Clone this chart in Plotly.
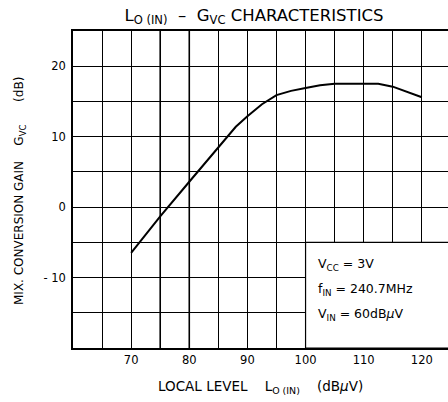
import plotly.graph_objects as go

# Data
lo_level = [70, 75, 80, 85, 88, 90, 92.5, 95, 97.5, 100, 102.5, 105, 110, 112.5, 115, 117.5, 120]
gain_db = [-6.5, -1.3, 3.6, 8.5, 11.4, 12.9, 14.6, 15.9, 16.5, 16.9, 17.3, 17.5, 17.5, 17.5, 17.1, 16.4, 15.6]

x_ticks = [70, 80, 90, 100, 110, 120]
x_ticktext = ["70", "80", "90", "100", "110", "120"]
y_ticks = [-10, 0, 10, 20]
y_ticktext = ["- 10", "0", "10", "20"]

cond_lines = ["V<sub>CC</sub> = 3V", "f<sub>IN</sub> = 240.7MHz", "V<sub>IN</sub> = 60dB<i>μ</i>V"]
cond_y = [-8.1, -11.7, -15.3]

FONT = "DejaVu Sans"
W, H = 448, 402
ML, MR, MT, MB = 73, 0, 31, 54

fig = go.Figure()
fig.add_trace(go.Scatter(x=lo_level, y=gain_db, mode="lines",
                         line=dict(color="black", width=2), showlegend=False,
                         hoverinfo="skip"))

fig.update_xaxes(range=[60, 124.5], tickvals=x_ticks, ticktext=x_ticktext,
                 showgrid=True, gridcolor="black", gridwidth=1,
                 minor=dict(dtick=5, tick0=60, showgrid=True, gridcolor="black", gridwidth=1),
                 showline=True, linecolor="black", linewidth=1.5, mirror=True,
                 ticks="", zeroline=False, automargin=False,
                 tickfont=dict(family=FONT, size=11.5, color="black"))
fig.update_yaxes(range=[-20, 25], tickvals=y_ticks, ticktext=y_ticktext,
                 showgrid=True, gridcolor="black", gridwidth=1,
                 minor=dict(dtick=5, tick0=-20, showgrid=True, gridcolor="black", gridwidth=1),
                 showline=True, linecolor="black", linewidth=1.5, mirror=False,
                 ticks="", zeroline=False, automargin=False, ticklabelstandoff=3,
                 tickfont=dict(family=FONT, size=11.5, color="black"))

# slightly heavier grid lines as in the reference
for xv in [75, 80]:
    fig.add_shape(type="line", xref="x", yref="y", x0=xv, x1=xv, y0=-20, y1=25,
                  line=dict(color="black", width=1.6), layer="below")

# white conditions box
fig.add_shape(type="rect", xref="x", yref="y", x0=100, x1=126, y0=-20, y1=-5,
              fillcolor="white", line=dict(color="black", width=1.2), layer="above")

for t, yv in zip(cond_lines, cond_y):
    fig.add_annotation(x=101.8, y=yv, xref="x", yref="y", text=t, showarrow=False,
                       xanchor="left", yanchor="middle",
                       font=dict(family=FONT, size=12.5, color="black"))

fig.update_layout(
    width=W, height=H,
    margin=dict(l=ML, r=MR, t=MT, b=MB, autoexpand=False),
    paper_bgcolor="white", plot_bgcolor="white",
    title=dict(text="L<sub>O (IN)</sub>  –  G<sub>VC</sub> CHARACTERISTICS",
               x=254 / W, xanchor="center", xref="container",
               y=1 - 15 / H, yanchor="middle", yref="container", automargin=False,
               font=dict(family=FONT, size=16.5, color="black")),
)

def px_to_paper_x(px):
    return (px - ML) / (W - ML - MR)

def px_to_paper_y(py):
    return (H - MB - py) / (H - MT - MB)

fig.add_annotation(x=px_to_paper_x(260), y=px_to_paper_y(387), xref="paper", yref="paper",
                   text="LOCAL LEVEL&nbsp;&nbsp;&nbsp;&nbsp;L<sub>O (IN)</sub>&nbsp;&nbsp;&nbsp;&nbsp;(dB<i>μ</i>V)",
                   showarrow=False, xanchor="center", yanchor="middle",
                   font=dict(family=FONT, size=13.5, color="black"))
fig.add_annotation(x=px_to_paper_x(20), y=px_to_paper_y(191), xref="paper", yref="paper",
                   text="MIX. CONVERSION GAIN&nbsp;&nbsp;&nbsp;&nbsp;G<sub>VC</sub>&nbsp;&nbsp;&nbsp;&nbsp;&nbsp;&nbsp;(dB)",
                   textangle=-90, showarrow=False, xanchor="center", yanchor="middle",
                   font=dict(family=FONT, size=12, color="black"))

fig.write_html("out.html", config={"displayModeBar": False},
               post_script="document.body.style.margin='0';document.body.style.overflow='hidden';")
